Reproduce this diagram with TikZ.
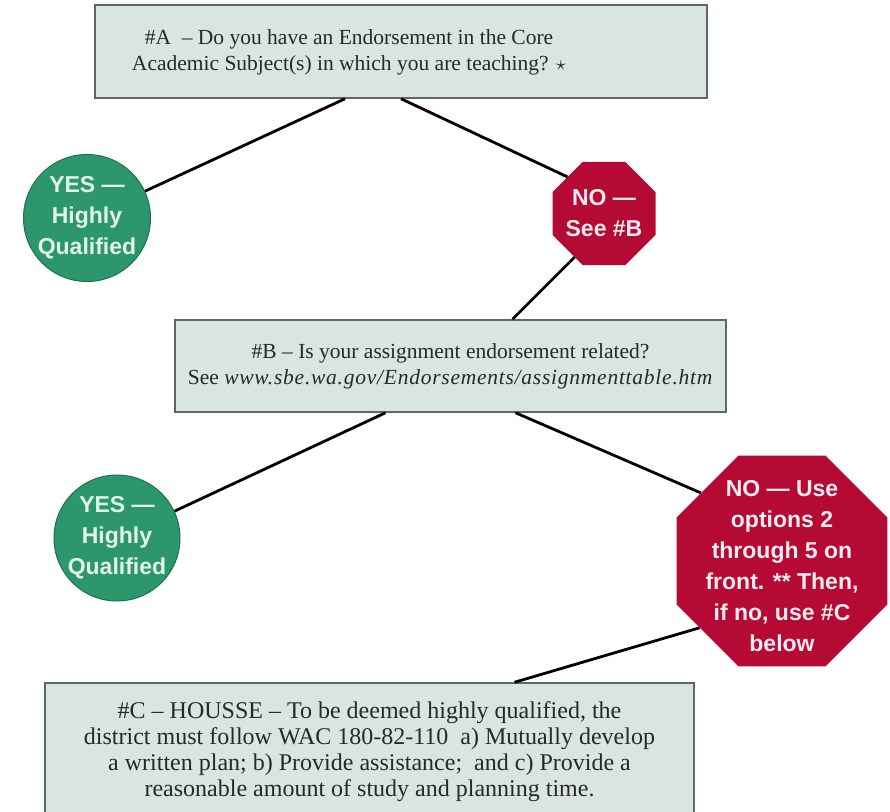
\documentclass[tikz,border=0pt]{standalone}
\usepackage{fontspec}
\usepackage{xcolor}
\usetikzlibrary{shapes.geometric}

\newfontfamily\signfont{Liberation Sans}
\newfontfamily\boxfont{Liberation Serif}

\definecolor{boxfill}{RGB}{217,230,223}
\definecolor{boxline}{RGB}{95,105,100}
\definecolor{boxtext}{RGB}{40,40,40}
\definecolor{yesgreen}{RGB}{44,150,108}
\definecolor{yestext}{RGB}{226,244,234}
\definecolor{nored}{RGB}{180,10,52}
\definecolor{notext}{RGB}{252,236,242}

\begin{document}
\begin{tikzpicture}[x=1pt, y=-1pt,
  question/.style={draw=boxline, line width=1.5pt, fill=boxfill, rectangle, inner sep=0pt,
    text=boxtext, align=center, font=\boxfont\fontsize{21.5}{26}\selectfont},
  questiontext/.style={text=boxtext, align=center, font=\boxfont\fontsize{21.5}{26}\selectfont},
  yescircle/.style={draw=yesgreen!75!black, line width=1pt, fill=yesgreen, circle, inner sep=0pt},
  nosign/.style={fill=nored, regular polygon, regular polygon sides=8, inner sep=0pt},
  signlabel/.style={align=center, font=\signfont\bfseries\fontsize{23}{31}\selectfont},
  link/.style={line width=2.8pt, black}]
\useasboundingbox (0,0) rectangle (890,811);

% questions
\node[question, minimum width=612pt, minimum height=93pt,
  label={[questiontext, xshift=-52pt, yshift=-1pt]center:\#A\ \ – Do you have an Endorsement in the Core\\Academic Subject(s) in which you are teaching? $\star$}] (qa) at (401,51.5) {};
\node[question, minimum width=551pt, minimum height=92pt] (qb) at (450.5,366)
  {\#B – Is your assignment endorsement related?\\See \textit{\addfontfeatures{LetterSpace=3.5}www.sbe.wa.gov/Endorsements/assignmenttable.htm}};
\node[question, minimum width=649pt, minimum height=138pt, font=\boxfont\fontsize{24}{26}\selectfont] (qc) at (369.5,752)
  {\#C – HOUSSE – To be deemed highly qualified, the\\district must follow WAC 180-82-110\enspace a) Mutually develop\\a written plan; b) Provide assistance;\enspace and c) Provide a\\reasonable amount of study and planning time.};

% answers
\node[yescircle, minimum size=127pt, label={[signlabel, text=yestext]center:YES —\\Highly\\Qualified}] (yes1) at (87,218) {};
\node[nosign, minimum size=111.5pt, label={[signlabel, text=notext]center:NO —\\See \#B}] (no1) at (604,213.5) {};
\node[yescircle, minimum size=126pt, label={[signlabel, text=yestext]center:YES —\\Highly\\Qualified}] (yes2) at (117,538) {};
\node[nosign, minimum size=228pt, label={[signlabel, text=notext, yshift=-5pt]center:NO — Use\\options 2\\through 5 on\\front. ** Then,\\if no, use \#C\\below}] (no2) at (782,561) {};

\draw[link] ([xshift=-56pt]qa.south) -- (yes1);
\draw[link] (qa.south) -- (no1.135);
\draw[link] (no1.236) -- ([xshift=62pt]qb.north);
\draw[link] ([xshift=-65pt]qb.south) -- (yes2);
\draw[link] ([xshift=65pt]qb.south) -- (no2.140);
\draw[link] (no2.219) -- ([xshift=145pt]qc.north);
\end{tikzpicture}
\end{document}
